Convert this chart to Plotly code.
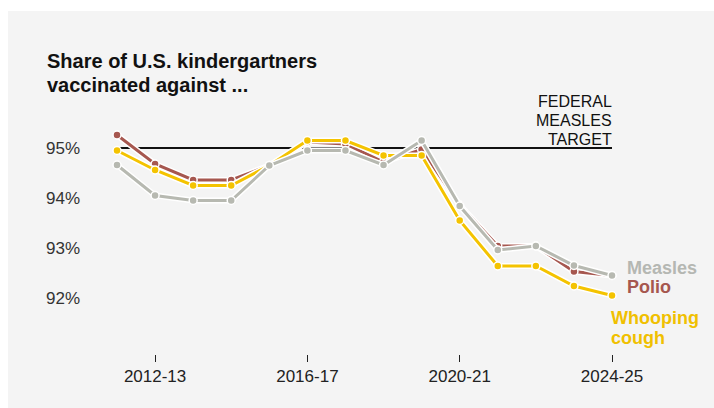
import plotly.graph_objects as go

seasons = ["2011-12", "2012-13", "2013-14", "2014-15", "2015-16", "2016-17", "2017-18",
           "2018-19", "2019-20", "2020-21", "2021-22", "2022-23", "2023-24", "2024-25"]
measles = [94.66, 94.05, 93.95, 93.95, 94.65, 94.95, 94.95, 94.66, 95.15, 93.84, 92.96, 93.04, 92.65, 92.45]
polio = [95.26, 94.68, 94.36, 94.36, 94.65, 95.12, 95.08, 94.72, 94.97, 93.86, 93.04, 93.04, 92.53, 92.45]
whooping = [94.95, 94.56, 94.25, 94.25, 94.65, 95.15, 95.15, 94.85, 94.85, 93.55, 92.64, 92.64, 92.24, 92.05]
tick_labels = ["2012-13", "2016-17", "2020-21", "2024-25"]
y_ticks = [92, 93, 94, 95]
y_tick_text = ["92%", "93%", "94%", "95%"]
target = 95

FONT = "Liberation Sans, Arial, sans-serif"
C_MEASLES = "#b7b9b1"
C_POLIO = "#a6574f"
C_WHOOP = "#f4c300"

idx = list(range(len(seasons)))
tick_idx = [seasons.index(t) for t in tick_labels]

fig = go.Figure()

# Federal target line
fig.add_trace(go.Scatter(x=[idx[0], idx[-1]], y=[target, target], mode="lines",
                         line=dict(color="#111111", width=2), hoverinfo="skip", showlegend=False))

for vals, col in [(polio, C_POLIO), (whooping, C_WHOOP), (measles, C_MEASLES)]:
    fig.add_trace(go.Scatter(x=idx, y=vals, mode="lines", line=dict(color="white", width=6),
                             hoverinfo="skip", showlegend=False))
    fig.add_trace(go.Scatter(x=idx, y=vals, mode="lines+markers",
                             line=dict(color=col, width=3),
                             marker=dict(size=8, color=col, line=dict(color="white", width=1.5)),
                             showlegend=False))

# Background panel
fig.add_shape(type="rect", xref="paper", yref="paper", x0=-0.127, x1=1.03, y0=-0.2, y1=1.0924,
              fillcolor="#f4f4f4", line=dict(width=0), layer="below")

ann = []
# Title
ann.append(dict(text="<b>Share of U.S. kindergartners</b>", xref="paper", yref="paper",
                x=(45 - 86) / 614, y=(354 - 61) / 314, xanchor="left", yanchor="middle",
                showarrow=False, font=dict(family=FONT, size=20, color="#111111")))
ann.append(dict(text="<b>vaccinated against ...</b>", xref="paper", yref="paper",
                x=(45 - 86) / 614, y=(354 - 85) / 314, xanchor="left", yanchor="middle",
                showarrow=False, font=dict(family=FONT, size=20, color="#111111")))
# Target label
for t, py in [("FEDERAL", 101), ("MEASLES", 120), ("TARGET", 139)]:
    ann.append(dict(text=t, x=idx[-1], y=target + (148 - py) / 50, xanchor="right", yanchor="middle",
                    xshift=2, showarrow=False, font=dict(family=FONT, size=16, color="#111111")))
# Series labels
ann.append(dict(text="<b>Measles</b>", x=idx[-1], y=92.6, xanchor="left", yanchor="middle", xshift=13,
                showarrow=False, font=dict(family=FONT, size=18, color="#b5b7b2")))
ann.append(dict(text="<b>Polio</b>", x=idx[-1], y=92.22, xanchor="left", yanchor="middle", xshift=13,
                showarrow=False, font=dict(family=FONT, size=18, color=C_POLIO)))
ann.append(dict(text="<b>Whooping</b>", x=idx[-1], y=91.6, xanchor="left", yanchor="middle", xshift=-3,
                showarrow=False, font=dict(family=FONT, size=18, color="#f0c000")))
ann.append(dict(text="<b>cough</b>", x=idx[-1], y=91.2, xanchor="left", yanchor="middle", xshift=-3,
                showarrow=False, font=dict(family=FONT, size=18, color="#f0c000")))

fig.update_layout(
    width=714, height=408,
    margin=dict(l=86, r=14, t=40, b=54),
    paper_bgcolor="white", plot_bgcolor="rgba(0,0,0,0)",
    annotations=ann,
    xaxis=dict(range=[-0.814, 15.311], tickvals=tick_idx, ticktext=tick_labels,
               showgrid=False, zeroline=False, showline=False,
               ticks="outside", ticklen=7, tickwidth=1, tickcolor="#222222",
               tickfont=dict(family=FONT, size=17, color="#222222")),
    yaxis=dict(range=[90.88, 97.16], tickvals=y_ticks, ticktext=y_tick_text,
               showgrid=False, zeroline=False, showline=False, ticks="",
               ticklabelstandoff=5,
               tickfont=dict(family=FONT, size=17, color="#333333")),
)

fig.write_html("out.html")
